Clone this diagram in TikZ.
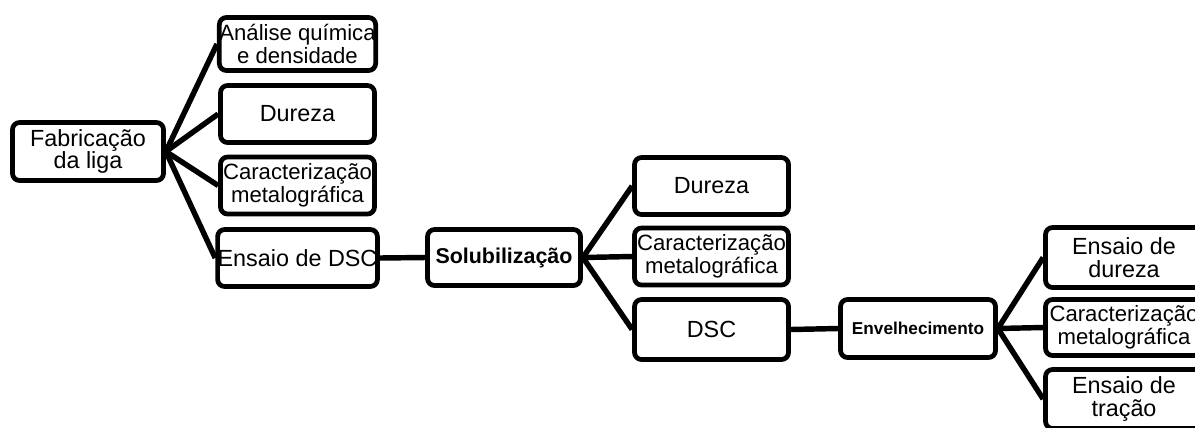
\documentclass[tikz,border=0pt]{standalone}
\usepackage{fontspec}
\setmainfont{Liberation Sans}

\begin{document}
\begin{tikzpicture}[x=0.02cm,y=-0.02cm,
  caixa/.style={draw=black,line width=2.7pt,rounded corners=4pt,align=center,inner sep=0pt,
    minimum width=3.08cm,minimum height=1.14cm,font=\fontsize{13.3}{13}\selectfont},
  textopeq/.style={font=\fontsize{12.6}{11.5}\selectfont},
  ligacao/.style={black,line width=3.1pt}]

\useasboundingbox (0,0) rectangle (1195,427);
\clip (0,0) rectangle (1195,427);

% primeira etapa
\node[caixa,minimum width=3.02cm,minimum height=1.16cm] (fab) at (88,151.5) {Fabricação\\da liga};
\node[caixa,textopeq,minimum height=1.06cm] (ana) at (297.5,44) {Análise química\\e densidade};
\node[caixa] (dur1) at (297.5,114) {Dureza};
\node[caixa,textopeq] (car1) at (297.5,185.5) {Caracterização\\metalográfica};
\node[caixa] (dsc1) at (297.5,258) {Ensaio de DSC};

% solubilizacao
\node[caixa,minimum width=3.06cm,minimum height=1.12cm,font=\bfseries\fontsize{12.2}{12}\selectfont] (sol) at (504,257.5) {Solubilização};
\node[caixa] (dur2) at (711.5,186) {Dureza};
\node[caixa,textopeq] (car2) at (711.5,256.5) {Caracterização\\metalográfica};
\node[caixa,minimum height=1.2cm] (dsc2) at (711.5,329.5) {DSC};

% envelhecimento
\node[caixa,minimum width=3.1cm,minimum height=1.16cm,font=\bfseries\fontsize{9.8}{10}\selectfont] (env) at (918,328.5) {Envelhecimento};
\node[caixa,minimum width=3.14cm,minimum height=1.2cm] (dur3) at (1124,257.5) {Ensaio de\\dureza};
\node[caixa,textopeq,minimum width=3.14cm,minimum height=1.12cm] (car3) at (1124,327.5) {Caracterização\\metalográfica};
\node[caixa,minimum width=3.14cm,minimum height=1.18cm] (tra) at (1124,399) {Ensaio de\\tração};

% ligacoes
\foreach \filho in {ana,dur1,car1,dsc1}
  \draw[ligacao] (fab.east) -- (\filho.west);
\draw[ligacao] (dsc1.east) -- (sol.west);
\foreach \filho in {dur2,car2,dsc2}
  \draw[ligacao] (sol.east) -- (\filho.west);
\draw[ligacao] (dsc2.east) -- (env.west);
\foreach \filho in {dur3,car3,tra}
  \draw[ligacao] (env.east) -- (\filho.west);

\end{tikzpicture}
\end{document}
